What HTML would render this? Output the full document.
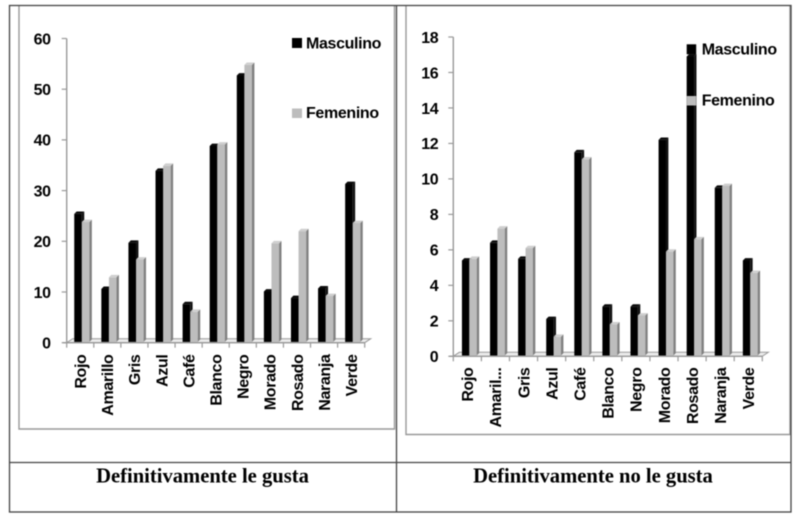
<!DOCTYPE html>
<html lang="es">
<head>
<meta charset="utf-8">
<title>Definitivamente le gusta / no le gusta</title>
<style>
html,body{margin:0;padding:0;background:#fff;width:800px;height:524px;overflow:hidden}
svg{display:block;filter:blur(0.45px)}
text{font-family:"Liberation Sans",sans-serif;font-weight:700;font-size:16px;letter-spacing:-0.35px;fill:#000}
.title{font-family:"Liberation Serif",serif;font-size:20.6px;letter-spacing:0;fill:#000}
</style>
</head>
<body>
<svg id="root" width="800" height="524" viewBox="0 0 800 524" xmlns="http://www.w3.org/2000/svg">
  <rect width="800" height="524" fill="#fff"/>
  <g fill="none" stroke="#999" stroke-width="1.4">
    <path d="M19 6V429H394.5V6"/>
    <path d="M406 6V434.5H790V6"/>
  </g>
  <g fill="none" stroke="#444" stroke-width="1.3">
    <rect x="9.5" y="5.5" width="781.5" height="506.5"/>
    <path d="M396.5 5.5V512"/>
    <path d="M9.5 462.5H791"/>
  </g>
  <text class="title" x="202.5" y="482.5" text-anchor="middle">Definitivamente le gusta</text>
  <text class="title" x="593" y="482.5" text-anchor="middle">Definitivamente no le gusta</text>
  <g id="left-chart"></g>
  <g id="right-chart"></g>
</svg>
<script>
const leftCategories = ["Rojo","Amarillo","Gris","Azul","Café","Blanco","Negro","Morado","Rosado","Naranja","Verde"];
const leftMasculino = [25.4,10.6,19.7,33.9,7.6,38.8,52.7,10.1,8.8,10.7,31.3];
const leftFemenino = [23.8,12.9,16.4,34.9,6.1,39.1,54.8,19.6,22.0,9.2,23.6];
const leftTicks = [0,10,20,30,40,50,60];

const rightCategories = ["Rojo","Amaril...","Gris","Azul","Café","Blanco","Negro","Morado","Rosado","Naranja","Verde"];
const rightMasculino = [5.4,6.4,5.5,2.1,11.5,2.8,2.8,12.2,16.9,9.5,5.4];
const rightFemenino = [5.5,7.2,6.1,1.1,11.1,1.8,2.3,5.9,6.6,9.6,4.7];
const rightTicks = [0,2,4,6,8,10,12,14,16,18];

const NS = 'http://www.w3.org/2000/svg';
function make(tag, attrs, parent, txt) {
  const el = document.createElementNS(NS, tag);
  for (const k in attrs) el.setAttribute(k, attrs[k]);
  if (txt !== undefined) el.textContent = txt;
  parent.appendChild(el);
  return el;
}

function drawBar(g, x, w, d, base, top, front, side, cap, name) {
  const bar = make('g', {}, g);
  
  
  make('rect', {x: x, y: top, width: w, height: Math.max(0, base - top), fill: front}, bar);
  make('polygon', {points: `${x+w},${top} ${x+w+d},${top-d} ${x+w+d},${base-d} ${x+w},${base}`, fill: side}, bar);
  make('polygon', {points: `${x},${top} ${x+d},${top-d} ${x+w+d},${top-d} ${x+w},${top}`, fill: cap}, bar);
}

function drawChart(g, cfg, categories, masc, fem, ticks) {
  const maxT = ticks[ticks.length - 1];
  const yAxis = v => cfg.y0 - (v / maxT) * (cfg.y0 - cfg.yMax);
  const band = (cfg.x1 - cfg.x0) / categories.length;
  const xAxis = i => cfg.x0 + band * (i + 0.5);

  const floor = make('polygon', {points: `${cfg.x0},${cfg.y0} ${cfg.x0+6},${cfg.y0-4} ${cfg.x1+6},${cfg.y0-4} ${cfg.x1},${cfg.y0}`, fill: '#ececec', stroke: '#999', 'stroke-width': 1}, g);
  
  

  const yLine = make('line', {x1: cfg.x0, x2: cfg.x0, y1: yAxis(maxT), y2: cfg.y0, stroke: '#999', 'stroke-width': 1.4}, g);
  
  

  const xLine = make('line', {x1: cfg.x0 - 4, x2: cfg.x1, y1: cfg.y0, y2: cfg.y0, stroke: '#999', 'stroke-width': 1.4}, g);
  
  

  ticks.forEach(t => {
    const y = yAxis(t);
    const mark = make('line', {x1: cfg.x0 - 5, x2: cfg.x0, y1: y, y2: y, stroke: '#999', 'stroke-width': 1.2}, g);
    
    
    const label = make('text', {x: cfg.labelX, y: y + 5.8, 'text-anchor': 'end'}, g, String(t));
    
    
  });

  for (let i = 0; i <= categories.length; i++) {
    const x = cfg.x0 + band * i;
    const mark = make('line', {x1: x, x2: x, y1: cfg.y0, y2: cfg.y0 + 5, stroke: '#999', 'stroke-width': 1.2}, g);
    
    
  }

  categories.forEach((c, i) => {
    const cx = xAxis(i);
    const bx = cx + cfg.barOffset;
    const base = cfg.y0 - 0.8;
    drawBar(g, bx, cfg.barW, 2.4, base, yAxis(masc[i]), '#000', '#111', '#0a0a0a', 'bar-masculino');
    drawBar(g, bx + cfg.barW, cfg.barW, 2.4, base, yAxis(fem[i]), '#bdbdbd', '#808080', '#cfcfcf', 'bar-femenino');
    const bl = cx + 5.8;
    const label = make('text', {x: bl, y: cfg.catY, 'text-anchor': 'end', transform: `rotate(-90 ${bl} ${cfg.catY})`}, g, c);
    
    
  });

  const sw1 = make('rect', {x: cfg.legX, y: cfg.leg1Y, width: cfg.legW, height: 10, fill: '#000'}, g);
  
  
  const lt1 = make('text', {x: cfg.legTextX, y: cfg.leg1Y + 10.4}, g, 'Masculino');
  
  
  const sw2 = make('rect', {x: cfg.legX, y: cfg.leg2Y, width: cfg.legW, height: 9.5, fill: '#bdbdbd'}, g);
  
  
  const lt2 = make('text', {x: cfg.legTextX, y: cfg.leg2Y + 9.6}, g, 'Femenino');
  
  
}

drawChart(document.getElementById('left-chart'),
  {x0: 66.7, x1: 364.7, y0: 342.7, yMax: 38.5, labelX: 50.7, barOffset: -6, barW: 7.6, catY: 354.5,
   legX: 292, legW: 10, leg1Y: 38, leg2Y: 108.5, legTextX: 306},
  leftCategories, leftMasculino, leftFemenino, leftTicks);

drawChart(document.getElementById('right-chart'),
  {x0: 453.3, x1: 762.3, y0: 356.3, yMax: 37, labelX: 438.3, barOffset: -5.4, barW: 7.4, catY: 367.5,
   legX: 686.7, legW: 9.5, leg1Y: 44.3, leg2Y: 96, legTextX: 701.7},
  rightCategories, rightMasculino, rightFemenino, rightTicks);
</script>
</body>
</html>
